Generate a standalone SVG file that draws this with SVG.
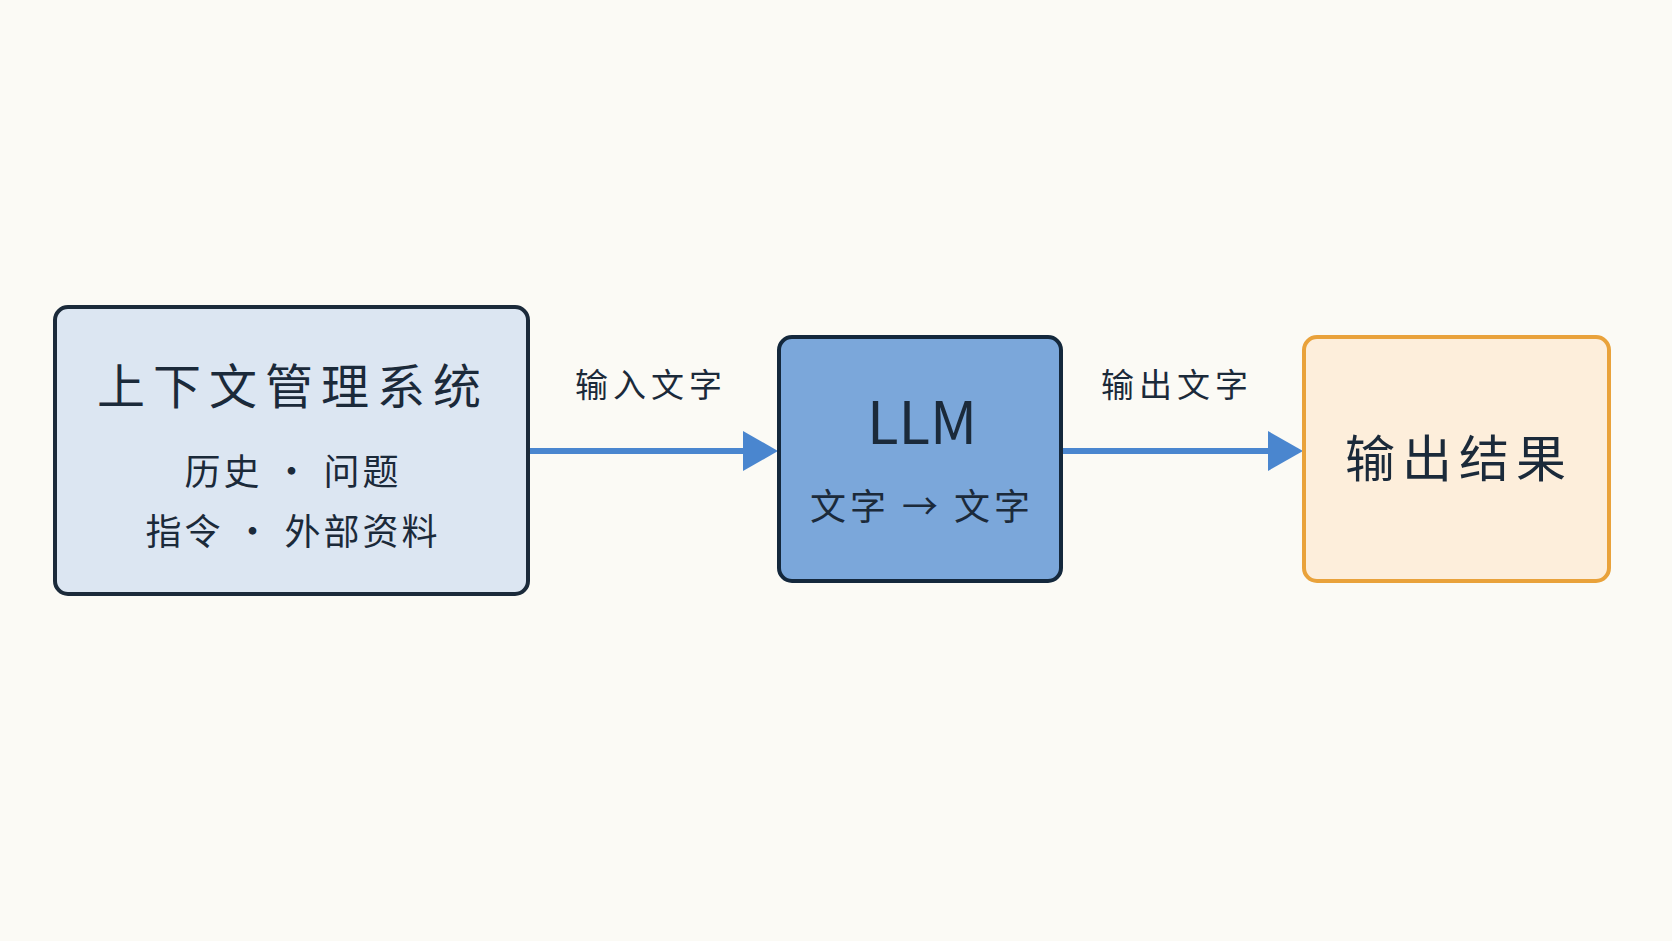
<svg xmlns="http://www.w3.org/2000/svg" width="1672" height="941" viewBox="0 0 1672 941">
<defs>
<style>
.t{font-family:"Noto Sans CJK SC","Noto Sans",sans-serif;fill:#1b2a3a;text-anchor:middle}
.box{stroke-width:4}
.conn{stroke:#4a86cf;stroke-width:6;fill:none}
</style>
</defs>
<rect width="1672" height="941" fill="#fbfaf5"/>
<g id="connectors">
<line class="conn" x1="529" y1="451" x2="745" y2="451"/>
<path d="M743,431 L778,451 L743,471 Z" fill="#4a86cf"/>
<line class="conn" x1="1061" y1="451" x2="1270" y2="451"/>
<path d="M1268,431 L1303,451 L1268,471 Z" fill="#4a86cf"/>
<text class="t" x="651" y="397" font-size="33" letter-spacing="5">输入文字</text>
<text class="t" x="1177" y="397" font-size="33" letter-spacing="5">输出文字</text>
</g>
<g id="context">
<rect class="box" x="55" y="307" width="473" height="287" rx="13" fill="#dce6f2" stroke="#1b2a3a"/>
<text class="t" x="293" y="404" font-size="48" letter-spacing="8">上下文管理系统</text>
<text class="t" x="293" y="485" font-size="36" letter-spacing="3">历史 · 问题</text>
<text class="t" x="293" y="545" font-size="36" letter-spacing="3">指令 · 外部资料</text>
</g>
<g id="llm">
<rect class="box" x="779" y="337" width="282" height="244" rx="13" fill="#7ba7da" stroke="#14283c"/>
<text class="t" x="922" y="444" font-size="58" font-family="Noto Sans">LLM</text>
<text class="t" x="922" y="520" font-size="36" letter-spacing="4">文字 → 文字</text>
</g>
<g id="output">
<rect class="box" x="1304" y="337" width="305" height="244" rx="13" fill="#fdeedb" stroke="#e9a23b"/>
<text class="t" x="1459" y="477" font-size="50" letter-spacing="7">输出结果</text>
</g>
</svg>
